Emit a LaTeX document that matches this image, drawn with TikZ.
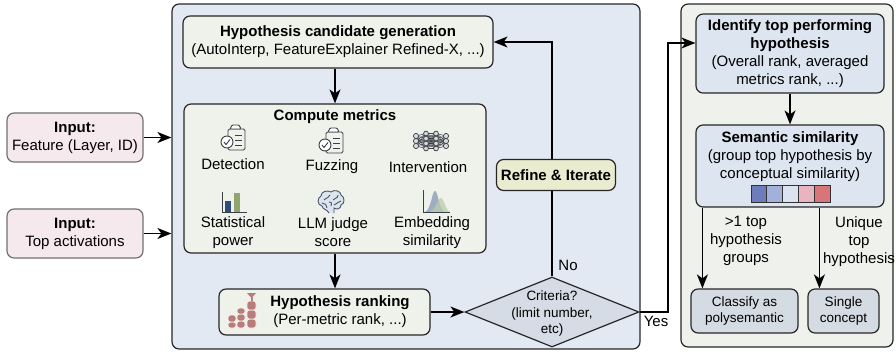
\documentclass[tikz,border=0pt]{standalone}
\usepackage{fontspec}
\setmainfont{Liberation Sans}
\usepackage{tikz}
\usetikzlibrary{arrows.meta}
\usetikzlibrary{shapes.geometric}

\definecolor{inputfill}{HTML}{F5E9EE}
\definecolor{inputdraw}{HTML}{707070}
\definecolor{loopfill}{HTML}{E2E9F2}
\definecolor{stepfill}{HTML}{EFF1EB}
\definecolor{refinefill}{HTML}{E9ECCE}
\definecolor{critfill}{HTML}{D5DCE5}
\definecolor{resultfill}{HTML}{EFF2EC}
\definecolor{topfill}{HTML}{DDE6F0}
\definecolor{endfill}{HTML}{D5DBE2}
\definecolor{rankred}{HTML}{B97C7A}
\definecolor{iconline}{HTML}{3A3F47}
\definecolor{barblue}{HTML}{2F4C7C}
\definecolor{bargreen}{HTML}{8FA56F}
\definecolor{densblue}{HTML}{8FA3B8}
\definecolor{densgreen}{HTML}{BCCCAA}
\definecolor{braindraw}{HTML}{46536A}
\definecolor{brainfill}{HTML}{DCE5EE}
\definecolor{simA}{HTML}{6E7DB9}
\definecolor{simB}{HTML}{A3B1DA}
\definecolor{simC}{HTML}{DCE3F0}
\definecolor{simD}{HTML}{E8B4C0}
\definecolor{simE}{HTML}{D9757A}

\tikzstyle{panel}=[
   rectangle,
   rounded corners=2.5mm,
   line width=1.2pt,
   draw=black!85,
   inner sep=0pt
]
\tikzstyle{inputbox}=[
   rectangle,
   rounded corners=2.5mm,
   line width=1.2pt,
   draw=inputdraw,
   fill=inputfill,
   align=center,
   inner sep=0pt
]
\tikzstyle{stepbox}=[
   rectangle,
   rounded corners=2.5mm,
   line width=1.2pt,
   draw=black!85,
   fill=stepfill,
   align=center,
   inner sep=0pt
]
\tikzstyle{refinebox}=[
   rectangle,
   rounded corners=2.5mm,
   line width=1.2pt,
   draw=black!85,
   fill=refinefill,
   align=center,
   inner sep=0pt
]
\tikzstyle{topbox}=[
   rectangle,
   rounded corners=2.5mm,
   line width=1.2pt,
   draw=black!85,
   fill=topfill,
   align=center,
   inner sep=0pt
]
\tikzstyle{endbox}=[
   rectangle,
   rounded corners=2.5mm,
   line width=1.2pt,
   draw=black!85,
   fill=endfill,
   align=center,
   inner sep=0pt,
   font=\fontsize{13.5}{16}\selectfont
]
\tikzstyle{decision}=[
   diamond,
   line width=1.2pt,
   draw=black!85,
   fill=critfill,
   inner sep=0pt
]
\tikzstyle{flow}=[->, line width=1.5pt]

% icons, local frame with y pointing up
\newcommand{\clipboardicon}[1]{%
   \begin{scope}[shift={#1}, x=1pt, y=1pt, draw=iconline, line width=0.9pt]
      \draw[rounded corners=1.5pt] (-5,9) rectangle (12,-12);
      \draw[fill=white, rounded corners=1pt] (-1,13) -- (6,13) -- (8,9) -- (-3,9) -- cycle;
      \draw (2,3) -- (9,3) (2,-2) -- (9,-2) (2,-7) -- (9,-7);
      \draw[fill=white] (-6,-4) circle (6pt);
      \draw (-9,-4) -- (-7,-6.5) -- (-3,-1.5);
   \end{scope}}
\newcommand{\networkicon}[1]{%
   \begin{scope}[shift={#1}, x=1pt, y=1pt, draw=iconline, line width=0.5pt]
      \foreach \a in {-5,0,5} \foreach \b in {-7.5,-2.5,2.5,7.5} {
         \draw (-15,\a) -- (-5,\b);
         \draw (15,\a) -- (5,\b);
      }
      \foreach \a in {-7.5,-2.5,2.5,7.5} \foreach \b in {-7.5,-2.5,2.5,7.5}
         \draw (-5,\a) -- (5,\b);
      \foreach \py in {-5,0,5} {
         \draw[fill=black!15, line width=0.7pt] (-15,\py) circle (2.6pt);
         \draw[fill=black!15, line width=0.7pt] (15,\py) circle (2.6pt);
      }
      \foreach \px in {-5,5} \foreach \py in {-7.5,-2.5,2.5,7.5}
         \draw[fill=black!15, line width=0.7pt] (\px,\py) circle (2.4pt);
   \end{scope}}
\newcommand{\baricon}[1]{%
   \begin{scope}[shift={#1}, x=1pt, y=1pt]
      \fill[barblue] (-8,-10) rectangle (-2,1);
      \fill[bargreen] (1,-10) rectangle (7,9);
      \draw[iconline, line width=1pt] (-11,10) -- (-11,-10) -- (14,-10);
   \end{scope}}
\newcommand{\densityicon}[1]{%
   \begin{scope}[shift={#1}, x=1pt, y=1pt]
      \fill[densblue, opacity=0.85] (-11,-11) .. controls (-5,-9) and (-4,10) .. (-1,10)
         .. controls (2,10) and (3,-9) .. (9,-11) -- cycle;
      \fill[densgreen, opacity=0.75] (-6,-11) .. controls (-1,-9) and (2,3) .. (5,3)
         .. controls (8,3) and (9,-9) .. (14,-11) -- cycle;
      \draw[iconline, line width=1pt] (-13,11) -- (-13,-11) -- (14,-11);
   \end{scope}}
\newcommand{\brainicon}[1]{%
   \begin{scope}[shift={#1}, x=1pt, y=1pt, draw=braindraw, line width=0.9pt]
      \draw[fill=brainfill] (-2,-11) .. controls (-4,-7) and (-8,-8) .. (-9,-4)
         .. controls (-14,-3) and (-14,4) .. (-10,6)
         .. controls (-10,11) and (-3,12) .. (0,10)
         .. controls (3,13) and (10,11) .. (10,7)
         .. controls (14,5) and (14,-2) .. (10,-3)
         .. controls (10,-7) and (5,-8) .. (3,-6) -- (3,-11);
      \draw (-7,2) .. controls (-4,5) and (-2,4) .. (-1,7);
      \draw (-9,-1) .. controls (-6,-1) and (-4,-3) .. (-4,-6);
      \draw (2,2) .. controls (4,5) and (7,3) .. (7,7);
      \draw (3,-3) .. controls (6,-1) and (8,0) .. (10,1);
      \draw (-2,0) .. controls (0,1) and (1,-1) .. (0,-4);
   \end{scope}}
\newcommand{\podiumicon}[1]{%
   \begin{scope}[shift={#1}, x=1pt, y=1pt, fill=rankred, draw=stepfill, line width=0.8pt]
      \filldraw[rounded corners=2.5pt] (-15,-17) rectangle (-7,-11);
      \filldraw[rounded corners=2.5pt] (-15,-11) rectangle (-7,-4);
      \filldraw[rounded corners=2.5pt] (-6,-17) rectangle (2,-10);
      \filldraw[rounded corners=2.5pt] (-6,-10) rectangle (2,-3);
      \filldraw[rounded corners=2.5pt] (-6,-3) rectangle (2,3);
      \filldraw[rounded corners=2.5pt] (4,-17) rectangle (13,-8);
      \filldraw[rounded corners=2.5pt] (4,-8) rectangle (13,1);
      \filldraw[rounded corners=2.5pt] (4,1) rectangle (13,10);
      \fill (7.5,10) rectangle (9.5,14);
      \fill (4,18) -- (13,18) -- (9.5,14) -- (7.5,14) -- cycle;
   \end{scope}}

\begin{document}
\begin{tikzpicture}[
         x=1pt, y=-1pt,
         >={Stealth[length=14pt, width=11pt, inset=4pt]}
      ]
      \fontsize{15}{18}\selectfont
      \useasboundingbox (0,0) rectangle (896,351);

      % panels
      \node (loop) [panel, fill=loopfill, minimum width=468pt, minimum height=345pt] at (406,176.5) {};
      \node (result) [panel, fill=resultfill, minimum width=212pt, minimum height=343pt] at (787,175.5) {};

      % inputs
      \node (feature) [inputbox, minimum width=136pt, minimum height=49pt] at (75,137.5) {
         \textbf{Input:}
         \\Feature (Layer, ID)
      };
      \node (activations) [inputbox, minimum width=136pt, minimum height=49pt] at (75,233.5) {
         \textbf{Input:}
         \\Top activations
      };

      % hypothesis loop
      \node (gen) [stepbox, minimum width=310pt, minimum height=52pt] at (338,42) {
         \textbf{Hypothesis candidate generation}
         \\(AutoInterp, FeatureExplainer Refined-X, ...)
      };
      \node (metrics) [stepbox, minimum width=302pt, minimum height=149pt] at (335,178.5) {};
      \node (metricstitle) at (335,117) {\textbf{Compute metrics}};

      \foreach \x/\y/\txt [count=\i] in {233/164/Detection, 332/167/Fuzzing, 428/167/Intervention}
         \node (metricA\i) at (\x,\y) {\txt};
      \foreach \x/\txt [count=\i] in {233/{Statistical\\power}, 333/{LLM judge\\score}, 432/{Embedding\\similarity}}
         \node (metricB\i) [align=center] at (\x,232.5) {\txt};

      \clipboardicon{(233,138)}
      \clipboardicon{(331,141)}
      \networkicon{(431,141)}
      \baricon{(233,202)}
      \brainicon{(331,202)}
      \densityicon{(436,201)}

      \node (rank) [stepbox, minimum width=211pt, minimum height=46pt] at (324.5,312) {};
      \node (ranktext) [align=center] at (340,311.5) {
         \textbf{Hypothesis ranking}
         \\(Per-metric rank, ...)
      };
      \podiumicon{(243,311)}

      \node (crit) [decision, minimum width=174pt, minimum height=70pt] at (552,312) {};
      \node (crittext) [align=center, font=\fontsize{13.5}{16.5}\selectfont] at (552,313.5) {
         Criteria?
         \\(limit number,
         \\etc)
      };

      % results
      \node (ident) [topbox, minimum width=188pt, minimum height=79pt] at (790,53.5) {
         \textbf{Identify top performing}
         \\\textbf{hypothesis}
         \\(Overall rank, averaged
         \\metrics rank, ...)
      };
      \node (sem) [topbox, minimum width=188pt, minimum height=82pt] at (790,166) {};
      \node (semtext) [align=center] at (790,156.5) {
         \textbf{Semantic similarity}
         \\(group top hypothesis by
         \\conceptual similarity)
      };
      \foreach \c [count=\i from 0] in {simA, simB, simC, simD, simE}
         \draw[fill=\c, line width=0.8pt, draw=black!80] (751+\i*15.8,185) rectangle ++(15.8,17);

      \node (poly) [endbox, minimum width=107pt, minimum height=44pt] at (744.5,311) {
         Classify as
         \\polysemantic
      };
      \node (single) [endbox, minimum width=71pt, minimum height=44pt] at (843.5,311) {
         Single
         \\concept
      };
      \coordinate (polyin) at ([xshift=12pt]poly.north west);
      \coordinate (singlein) at ([xshift=12pt]single.north west);
      \coordinate (yesturn) at (668,43);

      \path[flow]
      (feature.east) edge (feature.east -| loop.west)
      (activations.east) edge (activations.east -| loop.west)
      (gen.south -| metrics.north) edge (metrics.north)
      (metrics.south) edge (metrics.south |- rank.north)
      (rank.east) edge (crit.west)
      (ident.south) edge (sem.north)
      (polyin |- sem.south) edge (polyin)
      (singlein |- sem.south) edge (singlein)
      ;
      \draw[flow] (crit.north) -- (crit.north |- gen.east) -- (gen.east);
      \draw[flow] (crit.east) -| (yesturn) -- (yesturn -| ident.west);

      \node (refine) [refinebox, minimum width=119pt, minimum height=31pt] at (556,175) {\textbf{Refine \& Iterate}};
      \node (no) at (568,265) {No};
      \node (yes) at (656,321) {Yes};
      \node (multi) [align=center] at (746,241) {
         >1 top
         \\hypothesis
         \\groups
      };
      \node (unique) [align=center] at (859,242) {
         Unique
         \\top
         \\hypothesis
      };

   \end{tikzpicture}
\end{document}
